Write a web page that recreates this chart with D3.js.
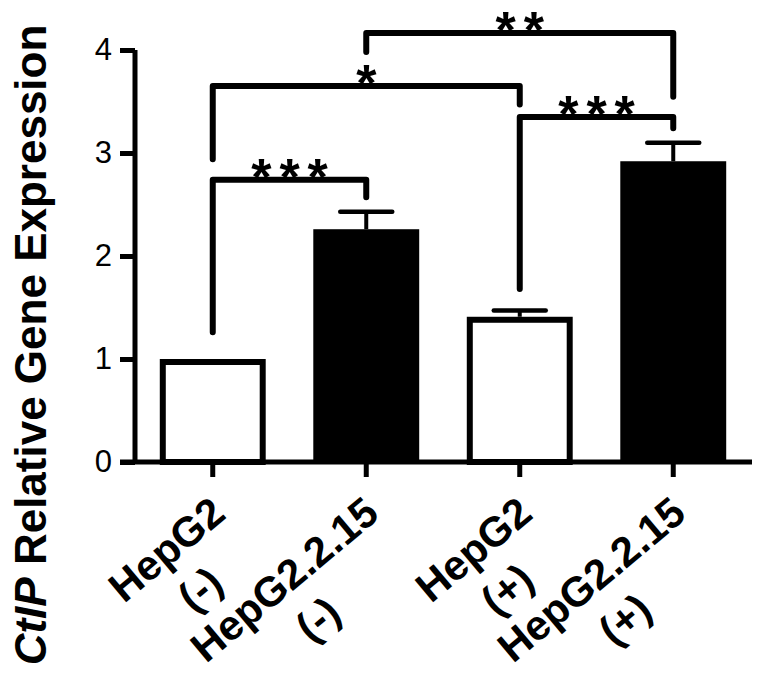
<!DOCTYPE html>
<html>
<head>
<meta charset="utf-8">
<script src="https://cdn.jsdelivr.net/npm/d3@7"></script>
<style>
  body { margin: 0; background: #fff; }
  svg { display: block; font-family: "Liberation Sans", Arial, sans-serif; }
</style>
</head>
<body>
<svg width="757" height="674"></svg>
<script>
// data
const groups = ["HepG2 (-)", "HepG2.2.15 (-)", "HepG2 (+)", "HepG2.2.15 (+)"];
const labelLine1 = ["HepG2", "HepG2.2.15", "HepG2", "HepG2.2.15"];
const labelLine2 = ["(-)", "(-)", "(+)", "(+)"];
const means = [1.0, 2.26, 1.41, 2.92];
const sems = [0, 0.17, 0.06, 0.18];
const filled = [false, true, false, true];
const yTicks = [0, 1, 2, 3, 4];

// significance brackets: from / to group index, bar height, leg ends, stars
const brFrom = [0, 0, 2, 1];
const brTo = [1, 2, 3, 3];
const brLevel = [2.74, 3.65, 3.35, 4.165];
const brLeftEnd = [1.26, 2.94, 1.68, 3.98];
const brRightEnd = [2.57, 3.47, 3.24, 3.545];
const brStars = ["***", "*", "***", "**"];

const svg = d3.select("svg");

const y = d3.scaleLinear().domain([0, 4]).range([462, 50]);
const x = d3.scaleBand().domain(d3.range(groups.length))
  .range([136, 750]).paddingInner(0.31).paddingOuter(0.155);
const cx = i => x(i) + x.bandwidth() / 2;

// bars
svg.append("g").selectAll("rect")
  .data(means)
  .join("rect")
    .attr("x", (d, i) => filled[i] ? x(i) : x(i) + 3)
    .attr("width", (d, i) => filled[i] ? x.bandwidth() : x.bandwidth() - 6)
    .attr("y", (d, i) => filled[i] ? y(d) : y(d) + 3)
    .attr("height", (d, i) => filled[i] ? y(0) - y(d) : y(0) - y(d) - 3)
    .attr("fill", (d, i) => filled[i] ? "#000" : "#fff")
    .attr("stroke", "#000")
    .attr("stroke-width", (d, i) => filled[i] ? 0 : 6);

// error bars (upper only)
const eb = svg.append("g").attr("stroke", "#000");
means.forEach((m, i) => {
  if (!sems[i]) return;
  eb.append("line")
    .attr("x1", cx(i)).attr("x2", cx(i))
    .attr("y1", y(m)).attr("y2", y(m + sems[i]))
    .attr("stroke-width", 4);
  eb.append("line")
    .attr("x1", cx(i) - 26).attr("x2", cx(i) + 26)
    .attr("y1", y(m + sems[i])).attr("y2", y(m + sems[i]))
    .attr("stroke-width", 4.5).attr("stroke-linecap", "round");
});

// axes
const axY = svg.append("g").attr("transform", "translate(135,0)")
  .call(d3.axisLeft(y).tickValues(yTicks).tickFormat(d3.format("d")).tickSize(15).tickPadding(8));
axY.select(".domain").attr("d", `M0,${y(4)}V${y(0)}`);
axY.selectAll("line, path").attr("stroke", "#000").attr("stroke-width", 5);
axY.selectAll("text").attr("font-size", 31).attr("fill", "#000")
  .style("font-family", "'Liberation Sans', Arial, sans-serif");

const axX = svg.append("g").attr("transform", `translate(0,${y(0)})`)
  .call(d3.axisBottom(x).tickSize(15).tickFormat(""));
axX.select(".domain").attr("d", "M120,0H752");
axX.selectAll("line, path").attr("stroke", "#000").attr("stroke-width", 5);

// rotated two-line category labels
const lab = svg.append("g").attr("font-weight", "bold").attr("font-size", 42).attr("fill", "#000");
groups.forEach((g, i) => {
  const t = lab.append("g")
    .attr("transform", `translate(${cx(i) + 15},517) rotate(-40)`);
  const l1 = t.append("text").attr("text-anchor", "end").text(labelLine1[i]);
  const w = l1.node().getComputedTextLength();
  t.append("text").attr("text-anchor", "middle")
    .attr("x", -w / 2).attr("y", 52).text(labelLine2[i]);
});

// y axis title
const yt = svg.append("text")
  .attr("transform", "translate(46,345) rotate(-90)")
  .attr("text-anchor", "middle").attr("font-weight", "bold").attr("font-size", 44);
yt.append("tspan").attr("font-style", "italic").text("CtIP");
yt.append("tspan").text(" Relative Gene Expression");

// significance brackets
const br = svg.append("g");
brFrom.forEach((f, k) => {
  const x1 = cx(f), x2 = cx(brTo[k]);
  br.append("path")
    .attr("d", `M${x1},${y(brLeftEnd[k])}V${y(brLevel[k])}H${x2}V${y(brRightEnd[k])}`)
    .attr("fill", "none").attr("stroke", "#000").attr("stroke-width", 6)
    .attr("stroke-linecap", "round").attr("stroke-linejoin", "round");
  br.append("text")
    .attr("x", (x1 + x2) / 2 + 4).attr("y", y(brLevel[k]) + 15)
    .attr("text-anchor", "middle").attr("font-weight", "bold")
    .attr("font-size", 52).attr("letter-spacing", 8)
    .text(brStars[k]);
});
</script>
</body>
</html>
